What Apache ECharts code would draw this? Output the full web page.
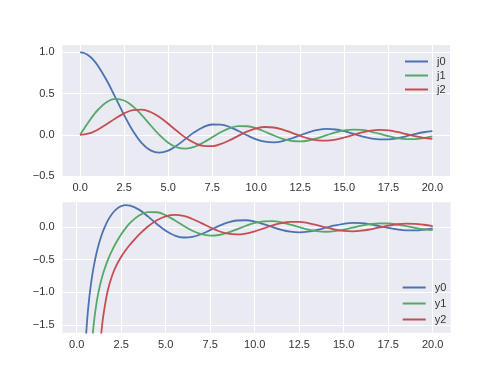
<!DOCTYPE html>
<html><head><meta charset="utf-8">
<script src="https://cdn.jsdelivr.net/npm/echarts@6/dist/echarts.min.js"></script>
<style>html,body{margin:0;padding:0;background:#fff}#c{width:500px;height:375px}</style>
</head><body><div id="c"></div>
<script>
// Top panel x positions
const xTop = [0,0.25,0.5,0.75,1,1.5,2,2.5,3,3.5,4,4.5,5,5.5,6,6.5,7,7.5,8,8.5,9,9.5,10,10.5,11,11.5,12,12.5,13,13.5,14,14.5,15,15.5,16,16.5,17,17.5,18,18.5,19,19.5,20];
const j0 = [1,0.9896,0.9589,0.9089,0.8415,0.6650,0.4546,0.2394,0.0470,-0.1002,-0.1892,-0.2172,-0.1918,-0.1283,-0.0466,0.0331,0.0939,0.1251,0.1237,0.0939,0.0458,-0.0079,-0.0544,-0.0838,-0.0909,-0.0761,-0.0447,-0.0053,0.0323,0.0595,0.0708,0.0645,0.0434,0.0133,-0.0180,-0.0431,-0.0566,-0.0557,-0.0417,-0.0185,0.0079,0.0311,0.0456];
const j1 = [0,0.0828,0.1626,0.2362,0.3012,0.3962,0.4354,0.4162,0.3457,0.2389,0.1161,-0.0014,-0.0951,-0.1522,-0.1678,-0.1452,-0.0943,-0.0295,0.0337,0.0819,0.1063,0.1041,0.0785,0.0373,-0.0087,-0.0486,-0.0741,-0.0802,-0.0673,-0.0397,-0.0047,0.0289,0.0535,0.0640,0.0587,0.0400,0.0129,-0.0157,-0.0390,-0.0518,-0.0516,-0.0392,-0.0181];
const j2 = [0,0.0041,0.0164,0.0360,0.0620,0.1274,0.1985,0.2600,0.2987,0.3050,0.2763,0.2163,0.1347,0.0453,-0.0373,-0.1001,-0.1343,-0.1369,-0.1111,-0.0650,-0.0104,0.0408,0.0780,0.0945,0.0885,0.0634,0.0262,-0.0139,-0.0478,-0.0683,-0.0718,-0.0585,-0.0327,-0.0009,0.0290,0.0504,0.0589,0.0530,0.0352,0.0101,-0.0160,-0.0371,-0.0483];

// Bottom panel x positions
const xBottom = [0.5,0.6,0.7,0.8,0.9,1.0,1.1,1.2,1.3,1.4,1.5,1.75,2.0,2.25,2.5,2.75,3.0,3.5,4,4.5,5,5.5,6,6.5,7,7.5,8,8.5,9,9.5,10,10.5,11,11.5,12,12.5,13,13.5,14,14.5,15,15.5,16,16.5,17,17.5,18,18.5,19,19.5,20];
const y0 = [-1.7552,-1.3755,-1.0926,-0.8709,-0.6907,-0.5403,-0.4124,-0.3020,-0.2058,-0.1214,-0.0471,0.1018,0.2081,0.2792,0.3204,0.3361,0.3300,0.2676,0.1634,0.0468,-0.0567,-0.1289,-0.1600,-0.1502,-0.1077,-0.0462,0.0182,0.0708,0.1012,0.1050,0.0839,0.0453,-0.0004,-0.0420,-0.0703,-0.0798,-0.0698,-0.0441,-0.0098,0.0245,0.0506,0.0631,0.0599,0.0426,0.0162,-0.0125,-0.0367,-0.0508,-0.0520,-0.0408,-0.0204];
const y1 = [null,null,null,null,-1.6378,-1.3818,-1.1851,-1.0283,-0.8995,-0.7906,-0.6964,-0.5041,-0.3506,-0.2217,-0.1112,-0.0166,0.0630,0.1767,0.2301,0.2276,0.1804,0.1048,0.0199,-0.0562,-0.1092,-0.1312,-0.1214,-0.0856,-0.0345,0.0190,0.0628,0.0881,0.0909,0.0725,0.0389,-0.0011,-0.0377,-0.0628,-0.0715,-0.0628,-0.0400,-0.0093,0.0217,0.0457,0.0575,0.0550,0.0397,0.0158,-0.0106,-0.0331,-0.0467];
const y2 = [null,null,null,null,null,null,null,null,-1.8700,-1.5727,-1.3457,-0.9660,-0.7340,-0.5748,-0.4538,-0.3542,-0.2670,-0.1161,0.0092,0.1049,0.1649,0.1861,0.1700,0.1243,0.0609,-0.0063,-0.0637,-0.1010,-0.1127,-0.0990,-0.0651,-0.0201,0.0252,0.0609,0.0800,0.0795,0.0611,0.0301,-0.0055,-0.0375,-0.0586,-0.0649,-0.0558,-0.0343,-0.0061,0.0219,0.0433,0.0534,0.0503,0.0357,0.0134];

const xTicks = [0,2.5,5,7.5,10,12.5,15,17.5,20];
const yTicksTop = [-0.5,0,0.5,1.0];
const yTicksBottom = [-1.5,-1.0,-0.5,0];
const colors = ['#4C72B0','#55A868','#C44E52'];

const font = '"Liberation Sans", Arial, sans-serif';
const fmt = v => Number(v).toFixed(1).replace('-', '\u2212');
const pairs = (xs, ys) => xs.map((x, i) => [x, ys[i]]).filter(p => p[1] !== null);

function xAxis(gi, min, max, margin) {
  return {
    type: 'value', gridIndex: gi, min: min, max: max,
    axisLine: {show: false},
    axisTick: {show: false, customValues: xTicks},
    axisLabel: {customValues: xTicks, formatter: fmt, color: '#333', fontSize: 11, fontFamily: font, margin: margin},
    splitLine: {show: true, lineStyle: {color: '#ffffff', width: 1}}
  };
}
function yAxis(gi, min, max, ticks) {
  return {
    type: 'value', gridIndex: gi, min: min, max: max,
    axisLine: {show: false},
    axisTick: {show: false, customValues: ticks},
    axisLabel: {customValues: ticks, formatter: fmt, color: '#333', fontSize: 11, fontFamily: font, margin: 8},
    splitLine: {show: true, lineStyle: {color: '#ffffff', width: 1}}
  };
}
function line(name, data, gi, ci) {
  return {
    name: name, type: 'line', xAxisIndex: gi, yAxisIndex: gi, data: data,
    showSymbol: false, symbol: 'none', smooth: 0.4, clip: true,
    lineStyle: {color: colors[ci], width: 1.8}, itemStyle: {color: colors[ci]}
  };
}
function legend(names, left, top, gap) {
  return {
    data: names.map(n => ({name: n, icon: 'rect'})),
    orient: 'vertical', left: left, top: top, itemWidth: 23, itemHeight: 2, itemGap: gap,
    textStyle: {color: '#333', fontSize: 11, fontFamily: font, padding: [0,0,0,4], lineHeight: 13},
    selectedMode: false
  };
}

const chart = echarts.init(document.getElementById('c'), null, {renderer: 'canvas'});
chart.setOption({
  animation: false,
  backgroundColor: '#ffffff',
  grid: [
    {left: 62.5, top: 45, width: 387.5, height: 131, show: true, backgroundColor: '#EAEAF2', borderWidth: 0},
    {left: 62.5, top: 202.3, width: 388, height: 130.4, show: true, backgroundColor: '#EAEAF2', borderWidth: 0}
  ],
  xAxis: [xAxis(0, -1, 21, 6), xAxis(1, -0.8, 21, 7)],
  yAxis: [yAxis(0, -0.5, 1.09, yTicksTop), yAxis(1, -1.62, 0.38, yTicksBottom)],
  legend: [
    legend(['j0','j1','j2'], 400, 50, 1),
    legend(['y0','y1','y2'], 397.7, 276, 3)
  ],
  series: [
    line('j0', pairs(xTop, j0), 0, 0),
    line('j1', pairs(xTop, j1), 0, 1),
    line('j2', pairs(xTop, j2), 0, 2),
    line('y0', pairs(xBottom, y0), 1, 0),
    line('y1', pairs(xBottom, y1), 1, 1),
    line('y2', pairs(xBottom, y2), 1, 2)
  ]
});
</script></body></html>
